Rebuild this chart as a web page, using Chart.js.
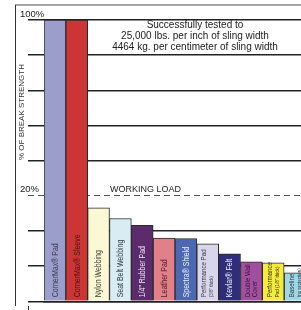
<!DOCTYPE html>
<html>
<head>
<meta charset="utf-8">
<script src="https://cdn.jsdelivr.net/npm/chart.js@4/dist/chart.umd.min.js"></script>
<style>
  html, body { margin: 0; padding: 0; background: #fff; }
  #wrap { width: 301px; height: 310px; overflow: hidden; position: relative; }
  canvas { display: block; }
</style>
</head>
<body>
<div id="wrap"><canvas id="c" width="306" height="310" style="width:306px;height:310px"></canvas></div>
<script>
// ---- data ----
const categories = [
  'CornerMax® Pad', 'CornerMax® Sleeve', 'Nylon Webbing', 'Seat Belt Webbing',
  '1/4" Rubber Pad', 'Leather Pad', 'Spectra® Shield', 'Performance Pad (3/8" thick)',
  'Kevlar® Felt', 'Double Wall Cover', 'Performance Pad (1/8" thick)', 'Baseline (no protection)'
];
const labelLines = [
  ['CornerMax® Pad'], ['CornerMax® Sleeve'], ['Nylon Webbing'], ['Seat Belt Webbing'],
  ['1/4" Rubber Pad'], ['Leather Pad'], ['Spectra® Shield'], ['Performance Pad', '(3/8" thick)'],
  ['Kevlar® Felt'], ['Double Wall', 'Cover'], ['Performance', 'Pad (1/8" thick)'], ['Baseline', '(no protection)']
];
const breakStrengthPct = [100, 100, 17.7, 15.7, 14.4, 12.0, 11.9, 10.9, 9.0, 7.5, 7.3, 5.4];
const barColors = ['#9b9dcb', '#cd3434', '#fbf8d6', '#d9ecf4', '#5b2b6c', '#e2808a', '#4b68b1',
  '#d9d5eb', '#2f2e7b', '#a24f9f', '#f4eb3c', '#9fd7e5'];
const textColors = ['#3a3a58', '#4e1212', '#3a3a2a', '#2e3a40', '#f0e6f4', '#4e2228', '#f2f4fa',
  '#3a3a48', '#f0f0f8', '#341634', '#3a3410', '#2a3a40'];
const tickLabels = { 8: '100%', 3: '20%' };
const workingLoadUnit = 3;
const noteLines = ['Successfully tested to', '25,000 lbs. per inch of sling width', '4464 kg. per centimeter of sling width'];

// chart's y scale is broken: 0-20% spans 3 grid steps, 20-100% spans 5 grid steps
function toUnits(v) { return v <= 20 ? v * 3 / 20 : 3 + (v - 20) * 5 / 80; }
const barUnits = breakStrengthPct.map(toUnits);

const FONT = 'Arial, "Liberation Sans", Helvetica, sans-serif';

const decor = {
  id: 'decor',
  beforeDraw(chart) {
    const ctx = chart.ctx;
    ctx.save();
    ctx.strokeStyle = '#8a8a8a'; ctx.lineWidth = 1.5;
    ctx.beginPath(); ctx.moveTo(15, 5); ctx.lineTo(310, 5); ctx.stroke();
    ctx.strokeStyle = '#333'; ctx.lineWidth = 1;
    ctx.beginPath(); ctx.moveTo(15.5, 5); ctx.lineTo(15.5, 306); ctx.stroke();
    ctx.beginPath(); ctx.moveTo(28.5, 306); ctx.lineTo(28.5, 310); ctx.stroke();
    ctx.restore();
  },
  afterDraw(chart) {
    const ctx = chart.ctx;
    const ys = chart.scales.y;
    ctx.save();
    // y title
    ctx.fillStyle = '#333';
    ctx.font = '8px ' + FONT;
    ctx.translate(22, 112); ctx.rotate(-Math.PI / 2);
    ctx.textAlign = 'center'; ctx.textBaseline = 'middle';
    ctx.fillText('% OF BREAK STRENGTH', 0, 0);
    ctx.restore();

    ctx.save();
    ctx.fillStyle = '#222';
    ctx.font = '10px ' + FONT;
    ctx.textAlign = 'center'; ctx.textBaseline = 'middle';
    const top = ys.getPixelForValue(8);
    noteLines.forEach((t, i) => ctx.fillText(t, 195, top + 5.5 + i * 10.7));
    ctx.font = '9px ' + FONT;
    ctx.textAlign = 'left';
    ctx.fillText('WORKING LOAD', 110, ys.getPixelForValue(workingLoadUnit) - 6.5);
    ctx.restore();

    // bar labels (condensed, reading upward)
    const meta = chart.getDatasetMeta(0);
    const base = ys.getPixelForValue(0) - 4;
    meta.data.forEach((bar, i) => {
      const lines = labelLines[i];
      ctx.save();
      ctx.fillStyle = textColors[i];
      ctx.textAlign = 'left'; ctx.textBaseline = 'middle';
      ctx.translate(bar.x, base); ctx.rotate(-Math.PI / 2);
      ctx.scale(0.82, 1);
      if (lines.length === 1) {
        ctx.font = '8.5px ' + FONT;
        ctx.fillText(lines[0], 0, 0.5);
      } else {
        ctx.font = '7.5px ' + FONT;
        ctx.fillText(lines[0], 0, -3.5);
        ctx.font = (i === 9 ? '7.5px ' : '5.5px ') + FONT;
        ctx.fillText(lines[1], 0, 4);
      }
      ctx.restore();
    });
  }
};

new Chart(document.getElementById('c'), {
  type: 'bar',
  data: {
    labels: categories,
    datasets: [{
      data: barUnits,
      backgroundColor: barColors,
      borderColor: '#2a2a2a',
      borderWidth: 1,
      categoryPercentage: 1,
      barPercentage: 1
    }]
  },
  options: {
    responsive: false,
    animation: false,
    devicePixelRatio: 1,
    layout: { padding: { left: 20, top: 20, right: 0, bottom: 0 } },
    plugins: { legend: { display: false }, tooltip: { enabled: false } },
    scales: {
      x: {
        type: 'category',
        ticks: { display: false },
        grid: { display: false },
        border: { display: true, color: '#222', width: 1.5 },
        afterFit(s) { s.height = 4; }
      },
      y: {
        min: 0, max: 8,
        afterFit(s) { s.width = 24; },
        ticks: {
          stepSize: 1,
          crossAlign: 'far',
          labelOffset: -6,
          color: '#222',
          font: { size: 9.5, family: FONT },
          callback: v => tickLabels[v] || ''
        },
        grid: {
          drawTicks: true,
          tickLength: 16,
          color: c => c.tick && c.tick.value === 3 ? '#555' : '#222',
          tickColor: c => c.tick && c.tick.value === 3 ? '#555' : '#222',
          lineWidth: c => c.tick && c.tick.value === 3 ? 1 : 1.5,
          tickWidth: c => c.tick && c.tick.value === 3 ? 1 : 1.5,
          tickBorderDash: c => c.tick && c.tick.value === 3 ? [6, 4] : []
        },
        border: {
          display: false,
          dash: c => c.tick && c.tick.value === 3 ? [6, 4] : []
        }
      }
    }
  },
  plugins: [decor]
});
</script>
</body>
</html>
